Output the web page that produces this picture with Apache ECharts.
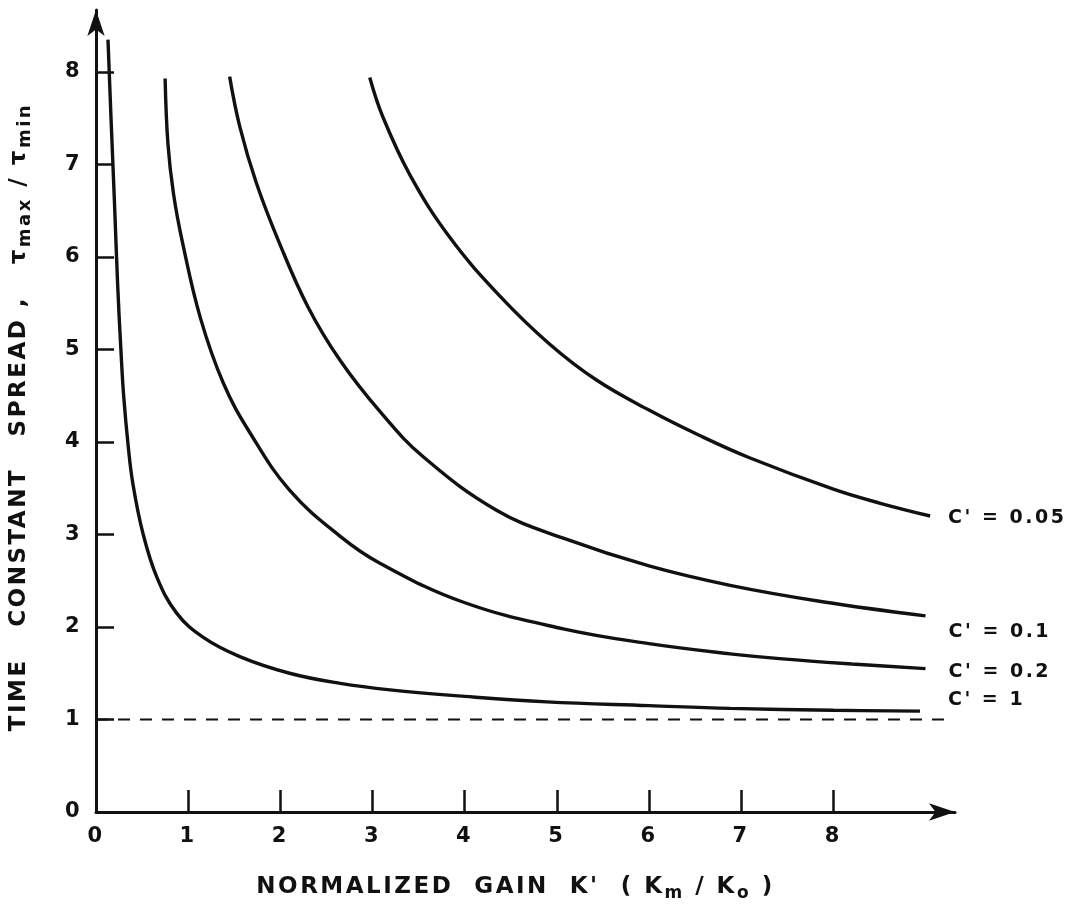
<!DOCTYPE html>
<html>
<head>
<meta charset="utf-8">
<script src="https://cdn.jsdelivr.net/npm/echarts@6/dist/echarts.min.js"></script>
<style>
html,body{margin:0;padding:0;background:#fff;}
#chart{width:1069px;height:909px;}
</style>
</head>
<body>
<div id="chart"></div>
<script>
// ---- data ----
const xTickLabels = [0, 1, 2, 3, 4, 5, 6, 7, 8];
const yTickLabels = [0, 1, 2, 3, 4, 5, 6, 7, 8];

const c1X   = [0.13, 0.165, 0.20, 0.235, 0.27, 0.30, 0.35, 0.40, 0.51, 0.66, 0.875, 1.16, 1.56, 2.10, 2.65, 3.19, 4.00, 4.89, 6.00, 6.88, 8.00, 8.94];
const c1Y   = [8.35, 7.45, 6.60, 5.70, 5.00, 4.50, 3.95, 3.55, 3.01, 2.54, 2.15, 1.89, 1.68, 1.50, 1.39, 1.32, 1.25, 1.19, 1.15, 1.12, 1.10, 1.09];

const c02X  = [0.75, 0.78, 0.84, 0.94, 1.13, 1.38, 1.67, 2.10, 2.65, 3.08, 3.98, 5.07, 6.00, 6.88, 7.45, 8.20, 9.00];
const c02Y  = [7.93, 7.23, 6.69, 6.15, 5.35, 4.64, 4.10, 3.48, 2.98, 2.69, 2.27, 1.98, 1.82, 1.71, 1.655, 1.60, 1.55];

const c01X  = [1.45, 1.56, 1.74, 1.99, 2.30, 2.65, 3.08, 3.55, 4.35, 5.07, 6.00, 6.88, 7.90, 9.00];
const c01Y  = [7.95, 7.41, 6.80, 6.15, 5.46, 4.88, 4.33, 3.84, 3.26, 2.96, 2.66, 2.45, 2.27, 2.12];

const c005X = [2.97, 3.11, 3.41, 3.84, 4.38, 4.92, 5.43, 6.01, 6.55, 7.09, 8.00, 8.50, 9.05];
const c005Y = [7.94, 7.52, 6.88, 6.21, 5.58, 5.06, 4.67, 4.34, 4.07, 3.83, 3.49, 3.34, 3.20];

const refX = [0, 9.2];
const refY = [1, 1];

const seriesNames = ["C' = 1", "C' = 0.2", "C' = 0.1", "C' = 0.05"];

// ---- lettering: wide-spaced draughtsman text ----
(function () {
  const LS = '2.5px';
  const p = CanvasRenderingContext2D.prototype;
  if (!('letterSpacing' in p)) return;
  const f = p.fillText, m = p.measureText;
  p.fillText = function (t, x, y, w) { this.letterSpacing = LS; return w === undefined ? f.call(this, t, x, y) : f.call(this, t, x, y, w); };
  p.measureText = function (t) { this.letterSpacing = LS; return m.call(this, t); };
})();

// ---- chart ----
const zip = (xs, ys) => xs.map((x, i) => [x, ys[i]]);
const FONT = 'DejaVu Sans';
const INK = '#111';

function curve(name, xs, ys, offset) {
  return {
    name: name,
    type: 'line',
    data: zip(xs, ys),
    smooth: 0.4,
    showSymbol: false,
    lineStyle: { color: INK, width: 3.4 },
    endLabel: {
      show: true,
      formatter: name,
      offset: offset,
      color: INK,
      fontFamily: FONT,
      fontWeight: 'bold',
      fontSize: 19
    },
    silent: true
  };
}

const chart = echarts.init(document.getElementById('chart'), null, { renderer: 'canvas' });
chart.setOption({
  animation: false,
  backgroundColor: '#fff',
  grid: { left: 96, top: 10, width: 859, height: 802, containLabel: false, outerBoundsMode: 'none' },
  xAxis: {
    type: 'value',
    min: 0, max: 9.32, interval: 1,
    splitLine: { show: false },
    axisLine: { show: true, lineStyle: { color: INK, width: 3 }, symbol: ['none', 'arrow'], symbolSize: [13, 26] },
    axisTick: { show: true, inside: true, length: 22, lineStyle: { color: INK, width: 2.5 }, customValues: [1, 2, 3, 4, 5, 6, 7, 8] },
    axisLabel: { color: INK, fontFamily: FONT, fontWeight: 'bold', fontSize: 21, margin: 13, customValues: xTickLabels },
    name: "NORMALIZED  GAIN  K'  ( K{s|m} / K{s|o} )",
    nameLocation: 'middle',
    nameGap: 58,
    nameTextStyle: {
      color: INK, fontFamily: FONT, fontWeight: 'bold', fontSize: 23, padding: [0, 20, 0, 0],
      rich: { s: { fontSize: 17, fontFamily: FONT, fontWeight: 'bold', color: INK, padding: [14, 0, 0, 0] } }
    }
  },
  yAxis: {
    type: 'value',
    min: 0, max: 8.67, interval: 1,
    splitLine: { show: false },
    axisLine: { show: true, lineStyle: { color: INK, width: 3 }, symbol: ['none', 'arrow'], symbolSize: [13, 26] },
    axisTick: { show: true, inside: true, length: 18, lineStyle: { color: INK, width: 2.5 }, customValues: [1, 2, 3, 4, 5, 6, 7, 8] },
    axisLabel: { color: INK, fontFamily: FONT, fontWeight: 'bold', fontSize: 21, margin: 14, customValues: yTickLabels },
    name: "TIME   CONSTANT   SPREAD ,   τ{s|max} / τ{s|min}",
    nameLocation: 'middle',
    nameRotate: 90,
    nameGap: 60,
    nameTextStyle: {
      color: INK, fontFamily: FONT, fontWeight: 'bold', fontSize: 23, padding: [0, 12, 0, 0],
      rich: { s: { fontSize: 18, fontFamily: FONT, fontWeight: 'bold', color: INK, padding: [14, 0, 0, 0] } }
    }
  },
  series: [
    {
      name: 'ref',
      type: 'line',
      data: zip(refX, refY),
      showSymbol: false,
      lineStyle: { color: INK, width: 2, type: [12, 10] },
      silent: true
    },
    curve(seriesNames[0], c1X, c1Y, [20, -11]),
    curve(seriesNames[1], c02X, c02Y, [15, 3]),
    curve(seriesNames[2], c01X, c01Y, [15, 16]),
    curve(seriesNames[3], c005X, c005Y, [10, 2])
  ]
});
</script>
</body>
</html>
